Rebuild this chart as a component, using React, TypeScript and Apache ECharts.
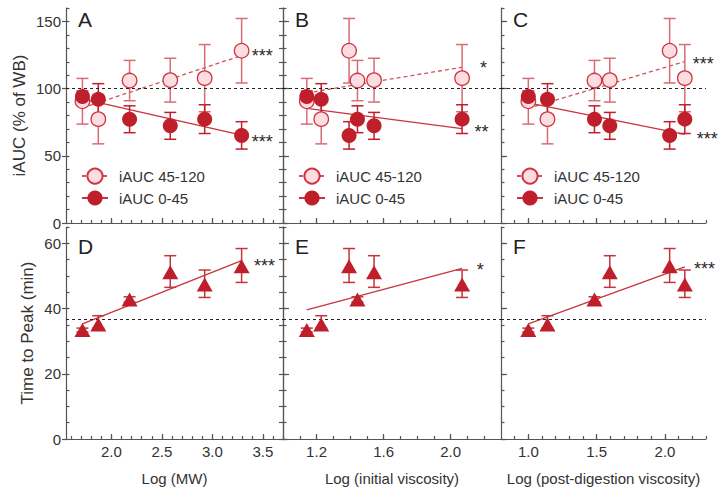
import React, { useEffect, useRef } from 'react';
import * as echarts from 'echarts';

// ---------- data ----------
// six test samples, same order in every panel
const logMW = [1.713, 1.87, 2.18, 2.583, 2.924, 3.29];
const logInitVisc = [1.142, 1.228, 1.444, 1.543, 2.068, 1.394];
const logPostVisc = [1.0, 1.14, 1.484, 1.596, 2.145, 2.034];

const iauc45_120 = [90.6, 77.3, 106, 106.3, 107.8, 128.2];
const iauc45_120Err = [17, 18.4, 15, 16.3, 25, 24];
const iauc0_45 = [94.2, 92, 77.2, 72.3, 77.3, 65.2];
const iauc0_45Err = [4, 11.7, 10, 10, 10.7, 10.2];

const timeToPeak = [33.4, 35.1, 42.8, 51.1, 47.4, 53.0];
const timeToPeakHi = [34.0, 37.8, 43.6, 56.2, 51.8, 58.4];
const timeToPeakLo = [32.8, 34.0, 42.0, 46.5, 43.4, 48.0];

// regression line end points
const fitXA = [1.713, 3.29];
const fitXB = [1.142, 2.068];
const fitXC = [1.0, 2.145];
const fitLightA = [85.7, 124.6];
const fitDarkA = [92.3, 65.4];
const fitLightB = [96.8, 115.9];
const fitDarkB = [85.3, 70.2];
const fitLightC = [85.3, 120.2];
const fitDarkC = [89.4, 66.0];
const fitTtpD = [35.3, 54.7];
const fitTtpE = [39.6, 52.3];
const fitTtpF = [35.3, 52.8];

// reference (white bread) lines
const refIAUC = 100;
const refTTP = 36.6;

// tick labels
const xTicksMW = [2.0, 2.5, 3.0, 3.5];
const xTicksInit = [1.2, 1.6, 2.0];
const xTicksPost = [1.0, 1.5, 2.0];
const yTicksIAUC = [0, 50, 100, 150];
const yTicksTTP = [0, 20, 40, 60];

// significance marks (anchor in data units)
const sigA = [{ x: 3.39, y: 124.3, t: '***' }, { x: 3.39, y: 60.6, t: '***' }];
const sigB = [{ x: 2.175, y: 115.7, t: '*' }, { x: 2.141, y: 67.8, t: '**' }];
const sigC = [{ x: 2.202, y: 118.2, t: '***' }, { x: 2.232, y: 62.4, t: '***' }];
const sigD = [{ x: 3.413, y: 52.9, t: '***' }];
const sigE = [{ x: 2.155, y: 51.8, t: '*' }];
const sigF = [{ x: 2.212, y: 52.1, t: '***' }];

const legendNames = ['iAUC 45-120', 'iAUC 0-45'];
const panelLetters = ['A', 'B', 'C', 'D', 'E', 'F'];

// ---------- styling / layout ----------
const FONT = "'Liberation Sans', Arial, Helvetica, sans-serif";
const AXIS = '#555';
const TEXT = '#333';
const darkRed = '#BF1E2B';
const lightFill = '#FCDDE1';
const lightStroke = '#CF3440';
const lightErr = '#D86C75';
const fitDarkColor = '#C8343D';
const fitLightColor = '#D4505A';

const cols = [
  { left: 66, width: 217 },
  { left: 283, width: 218 },
  { left: 501, width: 205 },
];
const rows = [
  { top: 8, height: 215 },
  { top: 227, height: 212 },
];

function range(start: number, end: number, step: number): number[] {
  const n = Math.round((end - start) / step);
  const out: number[] = [];
  for (let i = 0; i <= n; i++) out.push(+(start + i * step).toFixed(4));
  return out;
}

const xCfg = [
  { min: 1.55, max: 3.7, labels: xTicksMW, minor: range(1.6, 3.7, 0.1), name: 'Log (MW)' },
  { min: 1.0, max: 2.3, labels: xTicksInit, minor: range(1.1, 2.2, 0.1), name: 'Log (initial viscosity)' },
  { min: 0.8, max: 2.3, labels: xTicksPost, minor: range(0.9, 2.3, 0.1), name: 'Log (post-digestion viscosity)' },
];
const yCfg = [
  { min: 0, max: 160, labels: yTicksIAUC, minor: range(0, 160, 10), name: 'iAUC (% of WB)', nameGap: 38 },
  { min: 0, max: 65, labels: yTicksTTP, minor: range(0, 65, 5), name: 'Time to Peak (min)', nameGap: 30 },
];

function errorBars(xs: number[], lo: number[], hi: number[], color: string, xi: number, yi: number, z: number) {
  return {
    type: 'custom',
    xAxisIndex: xi,
    yAxisIndex: yi,
    z,
    silent: true,
    data: xs.map((x, i) => [x, lo[i], hi[i]]),
    encode: { x: 0, y: [1, 2] },
    renderItem: (_params: any, api: any) => {
      const x = api.value(0);
      const top = api.coord([x, api.value(2)]);
      const bot = api.coord([x, api.value(1)]);
      const cap = 6;
      const style = { stroke: color, lineWidth: 1.5, fill: 'none' };
      return {
        type: 'group',
        children: [
          { type: 'line', shape: { x1: top[0], y1: top[1], x2: bot[0], y2: bot[1] }, style },
          { type: 'line', shape: { x1: top[0] - cap, y1: top[1], x2: top[0] + cap, y2: top[1] }, style },
          { type: 'line', shape: { x1: bot[0] - cap, y1: bot[1], x2: bot[0] + cap, y2: bot[1] }, style },
        ],
      };
    },
  };
}

function fitLine(xs: number[], ys: number[], color: string, dashed: boolean, xi: number, yi: number, ref?: number) {
  const s: any = {
    type: 'line',
    xAxisIndex: xi,
    yAxisIndex: yi,
    data: xs.map((x, i) => [x, ys[i]]),
    symbol: 'none',
    silent: true,
    z: 2,
    lineStyle: { color, width: 1.3, type: dashed ? [4, 3] : 'solid', opacity: 1 },
  };
  if (ref !== undefined) {
    s.markLine = {
      silent: true,
      symbol: ['none', 'none'],
      label: { show: false },
      lineStyle: { color: '#222', type: [3, 3], width: 1, opacity: 1 },
      data: [{ yAxis: ref }],
    };
  }
  return s;
}

function sigSeries(items: { x: number; y: number; t: string }[], xi: number, yi: number) {
  return {
    type: 'scatter',
    xAxisIndex: xi,
    yAxisIndex: yi,
    silent: true,
    z: 6,
    symbolSize: 0.1,
    itemStyle: { color: 'transparent', opacity: 1 },
    data: items.map((d) => ({ value: [d.x, d.y], label: { formatter: d.t } })),
    label: { show: true, position: 'right', distance: 0, fontSize: 18, color: '#2a2a2a', fontFamily: FONT, opacity: 1 },
  };
}

function buildOption() {
  const grids: any[] = [];
  const xAxes: any[] = [];
  const yAxes: any[] = [];
  const series: any[] = [];
  const graphics: any[] = [];
  const legends: any[] = [];
  const main: { xi: number; yi: number }[] = [];

  for (let r = 0; r < 2; r++) {
    for (let c = 0; c < 3; c++) {
      const g = grids.length;
      grids.push({ left: cols[c].left, width: cols[c].width, top: rows[r].top, height: rows[r].height, containLabel: false });
      const xc = xCfg[c];
      const yc = yCfg[r];
      const lineStyle = { color: AXIS, width: 1.2 };

      const xi = xAxes.length;
      xAxes.push({
        type: 'value', gridIndex: g, min: xc.min, max: xc.max, position: 'bottom',
        axisLine: { show: true, lineStyle },
        axisTick: { show: true, inside: true, length: 5, customValues: xc.labels, lineStyle },
        axisLabel: r === 1
          ? { show: true, customValues: xc.labels, formatter: (v: number) => v.toFixed(1), fontSize: 15, color: TEXT, fontFamily: FONT, margin: 5 }
          : { show: false },
        splitLine: { show: false },
        name: r === 1 ? xc.name : '',
        nameLocation: 'middle', nameGap: 32,
        nameTextStyle: { fontSize: 15, color: TEXT, fontFamily: FONT },
      });
      xAxes.push({
        type: 'value', gridIndex: g, min: xc.min, max: xc.max, position: 'bottom',
        axisLine: { show: false },
        axisTick: { show: true, inside: true, length: 3, customValues: xc.minor, lineStyle },
        axisLabel: { show: false }, splitLine: { show: false },
      });

      const yi = yAxes.length;
      yAxes.push({
        type: 'value', gridIndex: g, min: yc.min, max: yc.max, position: 'left',
        axisLine: { show: true, lineStyle },
        axisTick: { show: true, inside: c !== 0, length: c === 0 ? 4 : 6, customValues: yc.labels, lineStyle },
        axisLabel: c === 0
          ? { show: true, customValues: yc.labels, fontSize: 15, color: TEXT, fontFamily: FONT, margin: 5 }
          : { show: false },
        splitLine: { show: false },
        name: c === 0 ? yc.name : '',
        nameLocation: 'middle', nameGap: yc.nameGap,
        nameTextStyle: { fontSize: 17, color: TEXT, fontFamily: FONT },
      });
      yAxes.push({
        type: 'value', gridIndex: g, min: yc.min, max: yc.max, position: 'left',
        axisLine: { show: false },
        axisTick: { show: true, inside: true, length: 3.5, customValues: yc.minor, lineStyle },
        axisLabel: { show: false }, splitLine: { show: false },
      });
      if (c === 0) {
        yAxes.push({
          type: 'value', gridIndex: g, min: yc.min, max: yc.max, position: 'right',
          axisLine: { show: true, lineStyle },
          axisTick: { show: true, inside: true, length: 4, customValues: yc.minor, lineStyle },
          axisLabel: { show: false }, splitLine: { show: false },
        });
      }
      main.push({ xi, yi });

      graphics.push({
        type: 'text',
        x: cols[c].left + 12,
        y: r === 0 ? rows[r].top + 11 : rows[r].top + 19,
        silent: true,
        style: { text: panelLetters[g], fill: '#222', font: `21px ${FONT}`, align: 'left', verticalAlign: 'middle' },
      });
    }
  }

  const xsList = [logMW, logInitVisc, logPostVisc];
  const fitX = [fitXA, fitXB, fitXC];
  const fitLight = [fitLightA, fitLightB, fitLightC];
  const fitDark = [fitDarkA, fitDarkB, fitDarkC];
  const fitTtp = [fitTtpD, fitTtpE, fitTtpF];
  const sigTop = [sigA, sigB, sigC];
  const sigBottom = [sigD, sigE, sigF];

  const lLo = iauc45_120.map((v, i) => v - iauc45_120Err[i]);
  const lHi = iauc45_120.map((v, i) => v + iauc45_120Err[i]);
  const dLo = iauc0_45.map((v, i) => v - iauc0_45Err[i]);
  const dHi = iauc0_45.map((v, i) => v + iauc0_45Err[i]);

  for (let c = 0; c < 3; c++) {
    const { xi, yi } = main[c];
    const xs = xsList[c];
    series.push(fitLine(fitX[c], fitLight[c], fitLightColor, true, xi, yi));
    series.push(fitLine(fitX[c], fitDark[c], fitDarkColor, false, xi, yi, refIAUC));
    series.push(errorBars(xs, lLo, lHi, lightErr, xi, yi, 3));
    series.push(errorBars(xs, dLo, dHi, darkRed, xi, yi, 3));
    series.push({
      type: 'scatter', name: 'light' + c, xAxisIndex: xi, yAxisIndex: yi, z: 4, silent: true,
      symbol: 'circle', symbolSize: 14.5,
      itemStyle: { color: lightFill, borderColor: lightStroke, borderWidth: 1.3, opacity: 1 },
      data: xs.map((x, i) => [x, iauc45_120[i]]),
    });
    series.push({
      type: 'scatter', name: 'dark' + c, xAxisIndex: xi, yAxisIndex: yi, z: 5, silent: true,
      symbol: 'circle', symbolSize: 15,
      itemStyle: { color: darkRed, opacity: 1 },
      data: xs.map((x, i) => [x, iauc0_45[i]]),
    });
    series.push(sigSeries(sigTop[c], xi, yi));

    // bottom row
    const b = main[c + 3];
    series.push(fitLine(fitX[c], fitTtp[c], fitDarkColor, false, b.xi, b.yi, refTTP));
    series.push(errorBars(xs, timeToPeakLo, timeToPeakHi, '#C5333C', b.xi, b.yi, 3));
    series.push({
      type: 'scatter', xAxisIndex: b.xi, yAxisIndex: b.yi, z: 5, silent: true,
      symbol: 'triangle', symbolSize: [16, 14],
      itemStyle: { color: darkRed, opacity: 1 },
      data: xs.map((x, i) => [x, timeToPeak[i]]),
    });
    series.push(sigSeries(sigBottom[c], b.xi, b.yi));
  }

  // legend template series (empty) so the legend icon shows line + marker
  series.push({
    type: 'line', name: legendNames[0], xAxisIndex: main[0].xi, yAxisIndex: main[0].yi, data: [],
    symbol: 'circle', symbolSize: 14.5,
    itemStyle: { color: lightFill, borderColor: lightStroke, borderWidth: 1.3, opacity: 1 },
    lineStyle: { color: fitLightColor, width: 1.3, type: [4, 3] },
  });
  series.push({
    type: 'line', name: legendNames[1], xAxisIndex: main[0].xi, yAxisIndex: main[0].yi, data: [],
    symbol: 'circle', symbolSize: 15,
    itemStyle: { color: darkRed, opacity: 1 },
    lineStyle: { color: fitDarkColor, width: 1.3 },
  });

  const legendLeft = [81, 298, 516];
  for (let c = 0; c < 3; c++) {
    legends.push({
      left: legendLeft[c], top: 167.5, orient: 'vertical', selectedMode: false, padding: 0,
      itemWidth: 26, itemHeight: 19, itemGap: 5.7,
      data: legendNames,
      textStyle: { fontSize: 15, color: TEXT, fontFamily: FONT, padding: [0, 0, 0, 6] },
    });
  }

  return {
    animation: false,
    backgroundColor: '#ffffff',
    textStyle: { fontFamily: FONT },
    grid: grids,
    xAxis: xAxes,
    yAxis: yAxes,
    legend: legends,
    graphic: graphics,
    series,
  };
}

export default function App() {
  const ref = useRef<HTMLDivElement>(null);
  useEffect(() => {
    if (!ref.current) return;
    const chart = echarts.init(ref.current, undefined, { renderer: 'svg' });
    chart.setOption(buildOption() as any);
    return () => chart.dispose();
  }, []);
  return (
    <div
      ref={ref}
      style={{ position: 'fixed', left: 0, top: 0, width: 720, height: 488, background: '#fff' }}
    />
  );
}
